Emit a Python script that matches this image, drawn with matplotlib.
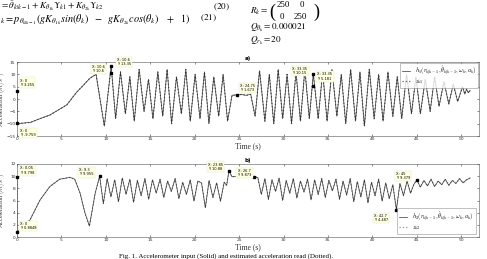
import matplotlib
matplotlib.use("Agg")
import matplotlib.pyplot as plt

plt.rcParams['mathtext.fontset'] = 'cm'
plt.rcParams['font.family'] = 'DejaVu Sans'

# a) accelerometer input (local extremes read off the picture)
t_a = [0, 0, 0.3, 1.5, 2.2, 3.7, 5.6, 6.7, 7.5, 8.2, 8.9, 9.83, 10.6,
       11.1, 11.65, 12.2, 12.7, 13.2, 13.75, 14.3, 14.8, 15.3, 15.85, 16.4, 16.9,
       17.4, 17.95, 18.5, 19.0, 19.5, 20.05, 20.6, 21.1, 21.6, 22.15, 22.7, 23.2,
       23.7, 24.2, 24.75, 25.3, 25.8, 26.3, 26.8,
       27.3, 27.9, 28.4, 28.9, 29.4, 29.9, 30.4, 30.9, 31.4, 31.9, 32.4, 32.9,
       33.35, 33.9, 34.4, 34.9, 35.45, 36.0, 36.5, 37.0, 37.55, 38.1, 38.6, 39.1,
       39.65, 40.2, 40.7, 41.2, 41.75, 42.3, 42.8, 43.3, 43.85, 44.4, 44.9, 45.4,
       45.95, 46.5, 47.0, 47.5, 48.05, 48.6, 49.1, 49.6, 50.15, 50.4, 50.6, 50.8, 51.0]
acc_a = [3.255, -9.759, -9.9, -9.5, -8.5, -6.5, -2.4, 2.7, 5.7, 8.4, 10.0, -11.0, 13.35,
         -8, 11, -6, 9, -9, 12, -5, 8, -8, 11, -7, 12,
         -10, 9, -6, 12, -9, 10, -8, 11, -10, 9, -7, 10,
         -9, 1.5, 1.673, 1.8, 1.5, 1.9, -7.0,
         11.5, -9, 10, -10, 12, -8, 10, -10, 11, -9, 12, -8,
         10.15, -8, 11, -9, 12, -7, 10, -10, 12, -9, 11, -11,
         12, -8, 10, -9, 11, -7, 9, -8, 10, -6, 9, -6,
         8, -5, 9, -3, 7, -2, 6, -1, 5, 2, 4, 2.5, 3.5]
est_a = acc_a

# b) second channel
t_b = [0, 0, 0.34, 1.46, 2.6, 3.7, 4.8, 5.97, 6.5, 7.1, 7.66, 8.15, 8.8, 9.3,
       9.72, 10.15, 10.57, 11.0, 11.42, 11.85, 12.27, 12.7, 13.12, 13.55, 13.97, 14.4,
       14.82, 15.25, 15.67, 16.1, 16.52, 16.95, 17.37, 17.8, 18.22, 18.65, 19.07, 19.5,
       19.92, 20.35, 20.77, 21.2, 21.62, 22.05, 22.47, 22.9, 23.32, 23.6, 23.85,
       24.2, 24.8, 25.4, 26.0, 26.7, 27.1,
       27.5, 27.9, 28.3, 28.7, 29.1, 29.5, 29.9, 30.3, 30.7, 31.1, 31.5, 31.9,
       32.3, 32.7, 33.1, 33.5, 33.9, 34.3, 34.7, 35.1, 35.5, 35.9, 36.3, 36.7,
       37.1, 37.5, 37.9, 38.3, 38.7, 39.1, 39.5, 39.9, 40.3, 40.7, 41.1, 41.5,
       41.9, 42.3, 42.7, 43.1, 43.5, 43.9, 44.3, 44.65, 45.0, 45.4, 45.8, 46.2,
       46.6, 47.0, 47.4, 47.8, 48.2, 48.6, 49.0, 49.4, 49.8, 50.2, 50.6, 51.0]
acc_b = [9.798, 0.8848, 1.15, 2.8, 6.1, 8.3, 9.5, 9.8, 9.5, 7.2, 3.9, 1.8, 7.2, 9.955,
         5.5, 9.6, 6.6, 9.4, 5.8, 9.7, 7.0, 9.5, 5.7, 9.3, 6.8, 9.6,
         6.2, 9.4, 7.2, 9.5, 6.5, 9.2, 7.5, 9.6, 6.3, 9.0, 7.0, 9.4,
         5.9, 9.2, 8.9, 4.8, 9.3, 6.5, 8.9, 5.9, 9.0, 8.5, 10.88,
         9.9, 10.0, 9.8, 10.0, 9.873, 9.8,
         7.0, 9.6, 6.2, 9.4, 7.5, 9.7, 6.0, 9.3, 7.2, 9.6, 6.4, 9.2,
         7.4, 9.5, 6.1, 9.4, 7.0, 9.6, 6.5, 9.3, 7.6, 9.5, 6.2, 9.2,
         6.9, 9.6, 5.8, 9.1, 6.6, 9.4, 5.6, 9.0, 6.8, 9.5, 5.9, 8.9,
         6.3, 8.6, 4.487, 8.8, 6.8, 9.2, 7.2, 8.6, 9.379, 8.2, 9.3, 8.4,
         9.5, 8.3, 9.2, 8.6, 9.5, 8.5, 9.3, 8.8, 9.6, 8.9, 9.4, 9.7]
est_b = acc_b

tips_a = [(0, 3.255), (0, -9.759), (10.6, 13.35), (10.6, 10.6),
          (24.75, 1.673), (33.35, 10.15), (33.35, 5.181)]
tips_b = [(0, 0.8848), (0.05, 9.798), (9.3, 9.955), (23.85, 10.88),
          (26.7, 9.873), (42.7, 4.487), (45, 9.379)]
# text offsets (points) for each data tip box
offs_a = [(2, 3), (2, -10), (4, 0), (-14, 0), (2, 2), (-15, -1), (3, 4)]
offs_b = [(2, 1), (2, 2), (-15, 0), (-15, 0), (-12, 0), (-16, -9), (-15, 0)]

fig = plt.figure(figsize=(4.87, 2.59), dpi=100)

# equations from the paper page above the figure
eq = dict(fontsize=6.6, va='center', math_fontfamily='stix')
fig.text(0.0, 0.977, r"$= \hat{\theta}_{k|k-1} + K_{\theta_{1k}}\Upsilon_{k1} + K_{\theta_{2k}}\Upsilon_{k2}$", **eq)
fig.text(0.437, 0.973, r"$(20)$", **eq)
fig.text(0.0, 0.925, r"$_k = p_{\theta_{k|k-1}}(gK_{\theta_{1k}}sin(\theta_k)\ \ -\ \ gK_{\theta_{2k}}cos(\theta_k)\ \ \ +\ \ 1)$",
         fontsize=7.4, va='center', math_fontfamily='stix')
fig.text(0.41, 0.929, r"$(21)$", **eq)
fig.text(0.513, 0.955, r"$R_k = $", **eq)
fig.text(0.553, 0.953, "(", fontsize=13, va='center', family='Liberation Serif')
fig.text(0.567, 0.980, "250", fontsize=6.4, va='center', family='Liberation Serif')
fig.text(0.616, 0.980, "0", fontsize=6.4, va='center', family='Liberation Serif')
fig.text(0.575, 0.933, "0", fontsize=6.4, va='center', family='Liberation Serif')
fig.text(0.602, 0.933, "250", fontsize=6.4, va='center', family='Liberation Serif')
fig.text(0.643, 0.953, ")", fontsize=13, va='center', family='Liberation Serif')
fig.text(0.513, 0.892, r"$Q_{\theta_k} = 0.000021$", **eq)
fig.text(0.513, 0.841, r"$Q_{r_k} = 20$", **eq)

ax1 = fig.add_axes([0.0349, 0.4749, 0.9487, 0.2857])
ax2 = fig.add_axes([0.0349, 0.0849, 0.9487, 0.2819])


def style(ax, ylim, yticks):
    ax.set_xlim(0, 52)
    ax.set_ylim(*ylim)
    ax.set_xticks(range(0, 51, 5))
    ax.set_yticks(yticks)
    ax.tick_params(direction='in', length=1.5, width=0.4, labelsize=3.2,
                   top=True, right=True, pad=1.0, colors='#333333')
    for s in ax.spines.values():
        s.set_linewidth(0.4)
        s.set_color('#555555')
    ax.set_xlabel('Time (s)', fontsize=5.5, family='Liberation Serif', labelpad=0.5, color='#333333')
    ax.set_ylabel(r'Acceleration $(m/s^2)$', fontsize=4.6, family='Liberation Serif', color='#333333')
    ax.yaxis.set_label_coords(-0.0185, 0.5)


def tips(ax, pts, offs):
    for (x, y), (dx, dy) in zip(pts, offs):
        ax.plot(x, y, 's', color='black', markersize=2, zorder=5, clip_on=False)
        ax.annotate('X: %g\nY: %s' % (x, y), (x, y), xytext=(dx, dy), textcoords='offset points',
                    fontsize=2.6, linespacing=1.1, va='bottom', ha='left',
                    bbox=dict(boxstyle='square,pad=0.3', fc='#ffffe1', ec='#e6e6c8', lw=0.3),
                    zorder=6, annotation_clip=False)


ax1.plot(t_a, est_a, color='#666666', lw=0.9, ls=':', label=r'$z_{k1}$', zorder=2)
ax1.plot(t_a, acc_a, color='#333333', lw=0.5, label=r'$h_1(r_{k|k-1}, \hat{\theta}_{k|k-1}, \omega_k, a_k)$', zorder=3)
style(ax1, (-15, 15), range(-15, 16, 5))
ax1.set_title('a)', fontsize=4, pad=1.5, fontweight='bold')
tips(ax1, tips_a, offs_a)
h, l = ax1.get_legend_handles_labels()
ax1.legend(h[::-1], l[::-1], loc='upper right', fontsize=4.2, frameon=True, fancybox=False,
           edgecolor='#777777', borderpad=0.3, handlelength=1.5, borderaxespad=0.1,
           labelspacing=0.2).get_frame().set_linewidth(0.4)

ax2.plot(t_b, est_b, color='#999999', lw=0.9, ls=':', label=r'$z_{k2}$', zorder=2)
ax2.plot(t_b, acc_b, color='#333333', lw=0.5, label=r'$h_2(r_{k|k-1}, \hat{\theta}_{k|k-1}, \omega_k, a_k)$', zorder=3)
style(ax2, (0, 12), range(0, 13, 2))
ax2.set_title('b)', fontsize=4, pad=1.5, fontweight='bold')
tips(ax2, tips_b, offs_b)
h, l = ax2.get_legend_handles_labels()
ax2.legend(h[::-1], l[::-1], loc='lower right', fontsize=4.2, frameon=True, fancybox=False,
           edgecolor='#777777', borderpad=0.3, handlelength=1.5, borderaxespad=0.6,
           labelspacing=0.2).get_frame().set_linewidth(0.4)

fig.text(0.464, 0.012, "Fig. 1. Accelerometer input (Solid) and estimated acceleration read (Dotted).",
         fontsize=5, ha='center', va='center', family='Liberation Serif')

fig.savefig('out.png', dpi=100)
